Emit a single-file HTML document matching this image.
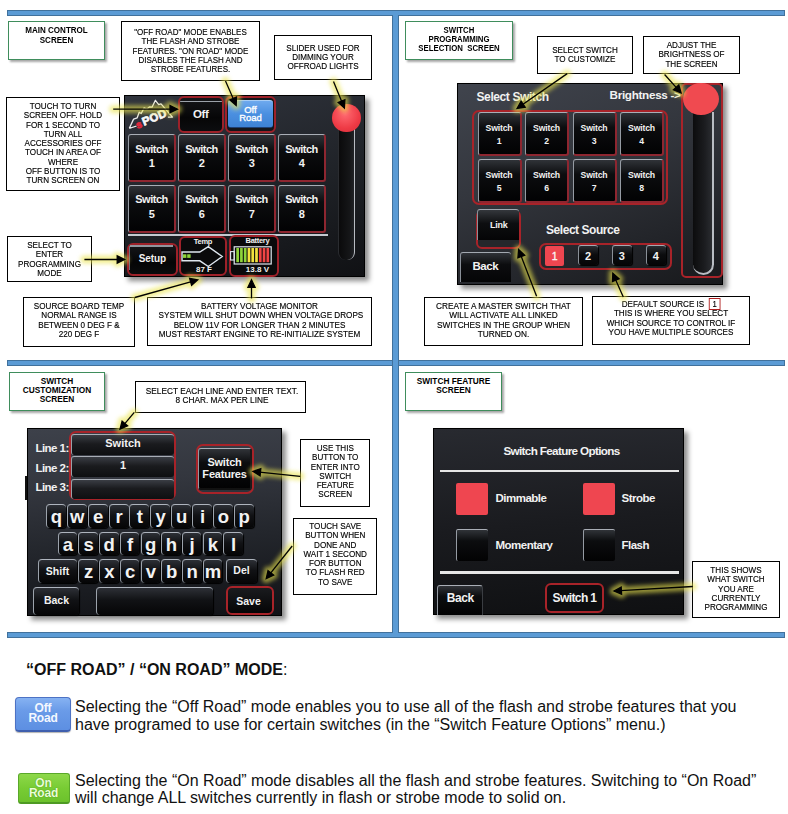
<!DOCTYPE html>
<html><head><meta charset="utf-8">
<style>
*{box-sizing:border-box}
html,body{margin:0;padding:0;background:#fff;width:788px;height:814px;overflow:hidden;position:relative;font-family:"Liberation Sans",sans-serif}
.a{position:absolute}
.bar{position:absolute;background:#5b9bd5;border:1px solid #41719c}
.gb{position:absolute;border:1.5px solid #3f8d5c;background:#fff;box-shadow:2px 2px 2px rgba(0,0,0,.35);font-weight:bold;font-size:8.3px;line-height:9.2px;text-align:center;color:#000}
.cb{position:absolute;border:1.3px solid #000;background:#fff;font-size:9px;line-height:9.3px;text-align:center;color:#000;-webkit-text-stroke:0.15px #000}
.in{transform:scaleX(0.9);white-space:nowrap}
.scr{position:absolute;background:#1c1f24;border:1px solid #000;box-shadow:4px 4px 5px rgba(0,0,0,.45)}
.txt{position:absolute;font-size:16px;line-height:17px;color:#111;white-space:nowrap}

.btn{position:absolute;background:linear-gradient(#303338 0%,#0c0d0f 35%,#020203 100%);border-radius:3px;border-top:1.5px solid #a9aeb6;border-left:1.5px solid #959ba3;border-right:2.5px solid #8e2630;border-bottom:2.5px solid #8e2630;color:#f2f2f2;font-weight:bold;text-align:center;white-space:nowrap}
.ro{position:absolute;border:1.5px solid #9a1c22;border-radius:5px}
.b1{font-size:11px;line-height:14.3px;padding-top:6.4px;letter-spacing:-0.5px}
.st{position:absolute;color:#f2f2f2;font-weight:bold;white-space:nowrap}
</style></head><body>
<!-- blue bars -->
<div class="bar" style="left:7px;top:10px;width:778px;height:6px"></div>
<div class="bar" style="left:7px;top:360px;width:778px;height:6px"></div>
<div class="bar" style="left:7px;top:632px;width:778px;height:6px"></div>
<div class="bar" style="left:392px;top:15px;width:7px;height:618px;border-top:none;border-bottom:none"></div>

<!-- Q1 -->
<div class="gb" style="left:8px;top:21px;width:97px;height:39px;padding-top:4.3px"><div style="transform:scaleX(0.97)">MAIN CONTROL<br>SCREEN</div></div>
<div class="cb" style="left:121px;top:21px;width:139px;height:60px;padding-top:6px"><div class="in" style="transform:scaleX(0.89)">"OFF ROAD" MODE ENABLES<br>THE FLASH AND STROBE<br>FEATURES. "ON ROAD" MODE<br>DISABLES THE FLASH AND<br>STROBE FEATURES.</div></div>
<div class="cb" style="left:274px;top:35px;width:98px;height:45px;padding-top:8px;line-height:8.9px"><div class="in">SLIDER USED FOR<br>DIMMING YOUR<br>OFFROAD LIGHTS</div></div>
<div class="cb" style="left:6px;top:97px;width:114px;height:94px;padding-top:4px"><div class="in">TOUCH TO TURN<br>SCREEN OFF. HOLD<br>FOR 1 SECOND TO<br>TURN ALL<br>ACCESSORIES OFF<br>TOUCH IN AREA OF<br>WHERE<br>OFF BUTTON IS TO<br>TURN SCREEN ON</div></div>
<div class="cb" style="left:7px;top:236px;width:85px;height:46px;padding-top:4px"><div class="in">SELECT TO<br>ENTER<br>PROGRAMMING<br>MODE</div></div>
<div class="cb" style="left:23px;top:297px;width:112px;height:49.5px;padding-top:4px"><div class="in">SOURCE BOARD TEMP<br>NORMAL RANGE IS<br>BETWEEN 0 DEG F &amp;<br>220 DEG F</div></div>
<div class="cb" style="left:147px;top:297px;width:225px;height:49px;padding-top:4px"><div class="in" style="transform:scaleX(0.905)">BATTERY VOLTAGE MONITOR<br>SYSTEM WILL SHUT DOWN WHEN VOLTAGE DROPS<br>BELOW 11V FOR LONGER THAN 2 MINUTES<br>MUST RESTART ENGINE TO RE-INITIALIZE SYSTEM</div></div>
<div class="scr" id="s1" style="left:124px;top:95px;width:241px;height:182px;background:linear-gradient(165deg,#30343d 0%,#1f2227 55%,#101114 100%)"></div>
<div class="btn b1" style="left:128px;top:134.4px;width:48px;height:47.5px">Switch<br>1</div>
<div class="btn b1" style="left:178px;top:134.4px;width:48px;height:47.5px">Switch<br>2</div>
<div class="btn b1" style="left:228px;top:134.4px;width:48px;height:47.5px">Switch<br>3</div>
<div class="btn b1" style="left:278px;top:134.4px;width:48px;height:47.5px">Switch<br>4</div>
<div class="btn b1" style="left:128px;top:185px;width:48px;height:47.5px">Switch<br>5</div>
<div class="btn b1" style="left:178px;top:185px;width:48px;height:47.5px">Switch<br>6</div>
<div class="btn b1" style="left:228px;top:185px;width:48px;height:47.5px">Switch<br>7</div>
<div class="btn b1" style="left:278px;top:185px;width:48px;height:47.5px">Switch<br>8</div>
<div class="a" style="left:177.5px;top:96.2px;width:46.5px;height:36.6px;border:2.5px solid #9e2129;border-radius:6px;background:linear-gradient(#151619,#060607 60%,#0c0d0f)"></div>
<div class="a" style="left:180px;top:100.5px;width:41.5px;height:1.5px;background:#9ca2aa;border-radius:1px"></div>
<div class="st" style="left:177.5px;top:105.5px;width:46.5px;text-align:center;font-size:11.5px;line-height:16px;letter-spacing:-0.4px">Off</div>
<div class="a" style="left:225px;top:96.2px;width:51px;height:36.6px;border:2.5px solid #9e2129;border-radius:6px;background:#14161a"></div>
<div class="a" style="left:227.6px;top:100.2px;width:45.8px;height:28px;border-radius:3px;background:linear-gradient(#6ea9ee,#4a8fe0 50%,#3e82d4);border-top:1px solid #a8cdf5;border-bottom:1.5px solid #1f3f70"></div>
<div class="st" style="left:227.6px;top:105.7px;width:45.8px;text-align:center;font-size:9.5px;line-height:8.7px;font-weight:normal;color:#fff;-webkit-text-stroke:0.35px #fff;letter-spacing:0px">Off<br>Road</div>
<div class="a" style="left:128px;top:234px;width:200px;height:1.7px;background:#c5cad0"></div>
<div class="a" style="left:127.3px;top:243px;width:50.3px;height:32.7px;border:2.5px solid #9e2129;border-radius:6px;background:linear-gradient(#151619,#050506 60%,#0a0b0c)"></div>
<div class="a" style="left:129.5px;top:245.3px;width:43px;height:1.5px;background:#8f959d"></div>
<div class="a" style="left:129px;top:246px;width:1.2px;height:24px;background:#6d737b"></div>
<div class="st" style="left:127.3px;top:252px;width:50.3px;text-align:center;font-size:10px;line-height:13px;letter-spacing:-0.1px">Setup</div>
<div class="a" style="left:179.2px;top:235.9px;width:47.6px;height:40.1px;border:2px solid #9e2129;border-radius:6px;background:#0a0a0b"></div>
<div class="st" style="left:179.2px;top:236.5px;width:47.6px;text-align:center;font-size:7.5px;line-height:9px;letter-spacing:-0.3px">Temp</div>
<svg class="a" style="left:176px;top:232px" width="56" height="48" viewBox="176 232 56 48"><path d="M182 252 H199.8 L208.3 246.6 L222.2 256.5 L208.3 266.5 L199.8 260.8 H182 Z" fill="none" stroke="#dfe6ee" stroke-width="1.4"/><rect x="183" y="254.3" width="3.4" height="3.6" fill="#8fd43a"/><rect x="187.2" y="254.3" width="3.4" height="3.6" fill="#8fd43a"/></svg>
<div class="st" style="left:179.2px;top:265px;width:47.6px;text-align:center;font-size:8px;line-height:10px;padding-left:2px">87 F</div>
<div class="a" style="left:228.9px;top:235.3px;width:50.1px;height:41.6px;border:2px solid #9e2129;border-radius:6px;background:#0a0a0b"></div>
<div class="st" style="left:228.9px;top:236.3px;width:50.1px;text-align:center;font-size:7.5px;line-height:9px;letter-spacing:-0.3px;padding-left:7px">Battery</div>
<svg class="a" style="left:226px;top:232px" width="58" height="48" viewBox="226 232 58 48"><rect x="230.6" y="251.6" width="3.6" height="8.4" fill="none" stroke="#dfe6ee" stroke-width="1.1"/><rect x="234.2" y="246.8" width="37" height="17.2" fill="none" stroke="#dfe6ee" stroke-width="1.2"/><rect x="236.30" y="248" width="2.7" height="14.2" fill="#8ed43a"/><rect x="240.07" y="248" width="2.7" height="14.2" fill="#8ed43a"/><rect x="243.84" y="248" width="2.7" height="14.2" fill="#8ed43a"/><rect x="247.61" y="248" width="2.7" height="14.2" fill="#f2e23e"/><rect x="251.38" y="248" width="2.7" height="14.2" fill="#f2e23e"/><rect x="255.15" y="248" width="2.7" height="14.2" fill="#f2e23e"/><rect x="258.92" y="248" width="2.7" height="14.2" fill="#f04444"/><rect x="262.69" y="248" width="2.7" height="14.2" fill="#f04444"/><rect x="266.46" y="248" width="2.7" height="14.2" fill="#f04444"/></svg>
<div class="st" style="left:228.9px;top:265.2px;width:50.1px;text-align:center;font-size:8px;line-height:10px;padding-left:7px">13.8 V</div>
<div class="a" style="left:338px;top:124px;width:17px;height:136px;border-radius:0 0 8px 8px;background:linear-gradient(90deg,#0a0a0b,#151618 70%,#202226);border-right:1.5px solid #b8bcc2;border-left:1px solid #2a2c30"></div>
<div class="a" style="left:332px;top:103.5px;width:28.5px;height:28.5px;border-radius:50%;background:radial-gradient(circle at 45% 35%,#ff6a72,#ee3a45 60%,#d62c38)"></div>
<svg class="a" style="left:125px;top:96px" width="52" height="36" viewBox="0 0 52 36"><path d="M4.3 32.3 L8.6 23.1 L12.2 21.8 L14.2 16.2 L16.2 17.5 L19.1 11.9 L21.8 13.2 L24.4 10.9 L27 11.2 L30.4 4.3 L33.7 8.6 L36 7.9 L47.5 21.1 L42.9 21.1 M4.3 32.3 L11.6 30" fill="none" stroke="#ececec" stroke-width="1.3" stroke-linejoin="round"/><g transform="rotate(-22 18 30)"><text x="19" y="30" font-family="Liberation Sans" font-weight="bold" font-size="11.5" fill="#f8f8f8" stroke="#f8f8f8" stroke-width="0.7" letter-spacing="0.2">POD</text><text x="12" y="30.5" font-family="Liberation Sans" font-weight="bold" font-size="10" fill="#e0283e" stroke="#e0283e" stroke-width="0.8">s</text></g></svg>

<!-- Q2 -->
<div class="gb" style="left:405px;top:21px;width:108px;height:39px;padding-top:4px"><div style="transform:scaleX(0.94)">SWITCH<br>PROGRAMMING<br>SELECTION&nbsp; SCREEN</div></div>
<div class="cb" style="left:536.5px;top:36px;width:96px;height:38px;padding-top:8.5px;line-height:9.5px"><div class="in">SELECT SWITCH<br>TO CUSTOMIZE</div></div>
<div class="cb" style="left:643px;top:36px;width:97px;height:38px;padding-top:3.5px;line-height:9.5px"><div class="in">ADJUST THE<br>BRIGHTNESS OF<br>THE SCREEN</div></div>
<div class="scr" id="s2" style="left:457px;top:83px;width:266px;height:202px;background:linear-gradient(160deg,#40444d 0%,#33363d 40%,#23252a 75%,#18191c 100%)"></div>
<div class="st" style="left:476.5px;top:89.5px;font-size:12px;line-height:14px;letter-spacing:-0.4px">Select Switch</div>
<div class="st" style="left:609.5px;top:87.5px;font-size:11.7px;line-height:14px;letter-spacing:-0.3px">Brightness -&gt;</div>
<div class="ro" style="left:472px;top:110.3px;width:195.5px;height:95px;border-radius:7px;border-width:2px;border-color:#a82329"></div>
<div class="btn" style="left:477.5px;top:112px;width:44px;height:44px;font-size:8.7px;line-height:13.2px;padding-top:9px;letter-spacing:-0.2px;font-weight:bold">Switch<br>1</div>
<div class="btn" style="left:525px;top:112px;width:44px;height:44px;font-size:8.7px;line-height:13.2px;padding-top:9px;letter-spacing:-0.2px;font-weight:bold">Switch<br>2</div>
<div class="btn" style="left:572.5px;top:112px;width:44px;height:44px;font-size:8.7px;line-height:13.2px;padding-top:9px;letter-spacing:-0.2px;font-weight:bold">Switch<br>3</div>
<div class="btn" style="left:620px;top:112px;width:44px;height:44px;font-size:8.7px;line-height:13.2px;padding-top:9px;letter-spacing:-0.2px;font-weight:bold">Switch<br>4</div>
<div class="btn" style="left:477.5px;top:158.5px;width:44px;height:44px;font-size:8.7px;line-height:13.2px;padding-top:9px;letter-spacing:-0.2px;font-weight:bold">Switch<br>5</div>
<div class="btn" style="left:525px;top:158.5px;width:44px;height:44px;font-size:8.7px;line-height:13.2px;padding-top:9px;letter-spacing:-0.2px;font-weight:bold">Switch<br>6</div>
<div class="btn" style="left:572.5px;top:158.5px;width:44px;height:44px;font-size:8.7px;line-height:13.2px;padding-top:9px;letter-spacing:-0.2px;font-weight:bold">Switch<br>7</div>
<div class="btn" style="left:620px;top:158.5px;width:44px;height:44px;font-size:8.7px;line-height:13.2px;padding-top:9px;letter-spacing:-0.2px;font-weight:bold">Switch<br>8</div>
<div class="a" style="left:476.1px;top:209.5px;width:44.8px;height:39px;border:2px solid #a82329;border-radius:6px;background:#25272b"></div>
<div class="a" style="left:477.1px;top:209.2px;width:41.5px;height:30.5px;border-radius:3px 3px 0 0;border-top:1.5px solid #a3a9b1;border-left:1.5px solid #8a9098;background:linear-gradient(#34373c,#0d0e10 45%,#050506)"></div>
<div class="st" style="left:476.2px;top:219px;width:45px;text-align:center;font-size:9px;line-height:12px;letter-spacing:-0.3px">Link</div>
<div class="a" style="left:459.6px;top:251.5px;width:51.5px;height:30.5px;border-radius:3px 3px 0 0;border-top:1.5px solid #a3a9b1;border-left:1.5px solid #8a9098;background:linear-gradient(#2f3237,#0c0d0f 40%,#050506)"></div>
<div class="st" style="left:459.6px;top:258.5px;width:51.5px;text-align:center;font-size:11.5px;line-height:14px;letter-spacing:-0.4px">Back</div>
<div class="st" style="left:546px;top:223px;font-size:12px;line-height:14px;letter-spacing:-0.45px">Select Source</div>
<div class="a" style="left:539px;top:242.6px;width:133px;height:27.6px;border:2px solid #a82329;border-radius:7px"></div>
<div class="a" style="left:545.1px;top:246.3px;width:19.3px;height:19.3px;border-radius:2px;background:#ef4650"></div>
<div class="st" style="left:545.1px;top:249px;width:19.3px;text-align:center;font-size:10.5px;line-height:14px;font-weight:normal;-webkit-text-stroke:0.3px #fff">1</div>
<div class="a" style="left:578.2px;top:245.4px;width:19.5px;height:19.6px;border-radius:3px;border-top:1.5px solid #a3a9b1;border-left:1.5px solid #8a9098;background:linear-gradient(#2a2d32,#0c0d0f 45%,#050506);box-shadow:1px 1px 1px #000"></div>
<div class="st" style="left:578.2px;top:248.5px;width:19.5px;text-align:center;font-size:11px;line-height:14px">2</div>
<div class="a" style="left:612px;top:245.4px;width:19.5px;height:19.6px;border-radius:3px;border-top:1.5px solid #a3a9b1;border-left:1.5px solid #8a9098;background:linear-gradient(#2a2d32,#0c0d0f 45%,#050506);box-shadow:1px 1px 1px #000"></div>
<div class="st" style="left:612px;top:248.5px;width:19.5px;text-align:center;font-size:11px;line-height:14px">3</div>
<div class="a" style="left:646px;top:245.4px;width:19.5px;height:19.6px;border-radius:3px;border-top:1.5px solid #a3a9b1;border-left:1.5px solid #8a9098;background:linear-gradient(#2a2d32,#0c0d0f 45%,#050506);box-shadow:1px 1px 1px #000"></div>
<div class="st" style="left:646px;top:248.5px;width:19.5px;text-align:center;font-size:11px;line-height:14px">4</div>
<div class="a" style="left:680.5px;top:82.5px;width:42.5px;height:195.5px;border:2px solid #a82329;border-radius:5px"></div>
<div class="a" style="left:692.5px;top:112px;width:21.5px;height:163px;border-radius:0 0 11px 11px;background:linear-gradient(90deg,#0c0c0d,#1b1c1f 60%,#2a2c30);border-right:2px solid #b9bdc3;border-bottom:2px solid #b9bdc3"></div>
<div class="a" style="left:683.3px;top:83.3px;width:35.5px;height:32.2px;border-radius:50%;background:#f04a50"></div>
<div class="cb" style="left:424px;top:296.5px;width:159px;height:49px;padding-top:4.5px"><div class="in" style="transform:scaleX(0.92)">CREATE A MASTER SWITCH THAT<br>WILL ACTIVATE ALL LINKED<br>SWITCHES IN THE GROUP WHEN<br>TURNED ON.</div></div>
<div class="cb" style="left:591.5px;top:295.5px;width:158px;height:49.5px;padding-top:3.5px"><div class="in">DEFAULT SOURCE IS&nbsp; <span style="border:1px solid #b02020;padding:0 3px;font-size:8.5px">1</span><br>THIS IS WHERE YOU SELECT<br>WHICH SOURCE TO CONTROL IF<br>YOU HAVE MULTIPLE SOURCES</div></div>

<!-- Q3 -->
<div class="gb" style="left:9px;top:372px;width:96px;height:39px;padding-top:4px">SWITCH<br>CUSTOMIZATION<br>SCREEN</div>
<div class="cb" style="left:134.5px;top:381px;width:171px;height:31.5px;padding-top:4.5px;padding-left:3px"><div class="in" style="transform:scaleX(0.92)">SELECT EACH LINE AND ENTER TEXT.<br>8 CHAR. MAX PER LINE</div></div>
<div class="scr" id="s3" style="left:27px;top:428px;width:255px;height:188px;background:linear-gradient(175deg,#3d414a 0%,#33363e 30%,#23262c 60%,#111216 100%)"></div>
<div class="a" style="left:25px;top:476px;width:2px;height:24px;background:#111"></div>
<div class="st" style="left:35.5px;top:441.3px;font-size:11.5px;line-height:14px;letter-spacing:-0.55px">Line 1:</div>
<div class="st" style="left:35.5px;top:461.3px;font-size:11.5px;line-height:14px;letter-spacing:-0.55px">Line 2:</div>
<div class="st" style="left:35.5px;top:480.3px;font-size:11.5px;line-height:14px;letter-spacing:-0.55px">Line 3:</div>
<div class="ro" style="left:69px;top:431px;width:107px;height:69px;border-radius:7px;border-width:2px;border-color:#a82329"></div>
<div class="btn" style="left:71px;top:434px;width:103px;height:20.5px;font-size:11px;line-height:17px;border-right:none;border-bottom:none;border-left-color:#9aa0a8;background:linear-gradient(#3a3d44,#1a1b1e 45%,#0e0f11)">Switch</div>
<div class="btn" style="left:71px;top:456px;width:103px;height:20.5px;font-size:11px;line-height:17px;border-right:none;border-bottom:none;border-left-color:#9aa0a8;background:linear-gradient(#3a3d44,#1a1b1e 45%,#0e0f11)">1</div>
<div class="btn" style="left:71px;top:478.5px;width:103px;height:20.5px;font-size:11px;line-height:17px;border-right:none;border-bottom:none;border-left-color:#9aa0a8;background:linear-gradient(#3a3d44,#1a1b1e 45%,#0e0f11)"></div>
<div class="ro" style="left:196px;top:444px;width:58px;height:49.5px;border-radius:7px;border-width:2px;border-color:#a82329"></div>
<div class="btn" style="left:198px;top:447.5px;width:54px;height:42.5px;font-size:11px;line-height:12.5px;padding-top:7px;border-right-color:#1a1a1a;border-bottom-color:#111;letter-spacing:-0.2px">Switch<br>Features</div>
<div class="btn" style="left:46.0px;top:504px;width:20px;height:24px;font-weight:bold;font-size:18.5px;line-height:23.5px;border-right:none;border-bottom:none;border-left:1.8px solid #9ca3ac;border-top:1.8px solid #aeb4bd;border-radius:4px;box-shadow:1px 1px 1px #000;background:linear-gradient(#2d3036,#111215 45%,#050506)">q</div>
<div class="btn" style="left:66.8px;top:504px;width:20px;height:24px;font-weight:bold;font-size:18.5px;line-height:23.5px;border-right:none;border-bottom:none;border-left:1.8px solid #9ca3ac;border-top:1.8px solid #aeb4bd;border-radius:4px;box-shadow:1px 1px 1px #000;background:linear-gradient(#2d3036,#111215 45%,#050506)">w</div>
<div class="btn" style="left:87.7px;top:504px;width:20px;height:24px;font-weight:bold;font-size:18.5px;line-height:23.5px;border-right:none;border-bottom:none;border-left:1.8px solid #9ca3ac;border-top:1.8px solid #aeb4bd;border-radius:4px;box-shadow:1px 1px 1px #000;background:linear-gradient(#2d3036,#111215 45%,#050506)">e</div>
<div class="btn" style="left:108.6px;top:504px;width:20px;height:24px;font-weight:bold;font-size:18.5px;line-height:23.5px;border-right:none;border-bottom:none;border-left:1.8px solid #9ca3ac;border-top:1.8px solid #aeb4bd;border-radius:4px;box-shadow:1px 1px 1px #000;background:linear-gradient(#2d3036,#111215 45%,#050506)">r</div>
<div class="btn" style="left:129.4px;top:504px;width:20px;height:24px;font-weight:bold;font-size:18.5px;line-height:23.5px;border-right:none;border-bottom:none;border-left:1.8px solid #9ca3ac;border-top:1.8px solid #aeb4bd;border-radius:4px;box-shadow:1px 1px 1px #000;background:linear-gradient(#2d3036,#111215 45%,#050506)">t</div>
<div class="btn" style="left:150.2px;top:504px;width:20px;height:24px;font-weight:bold;font-size:18.5px;line-height:23.5px;border-right:none;border-bottom:none;border-left:1.8px solid #9ca3ac;border-top:1.8px solid #aeb4bd;border-radius:4px;box-shadow:1px 1px 1px #000;background:linear-gradient(#2d3036,#111215 45%,#050506)">y</div>
<div class="btn" style="left:171.1px;top:504px;width:20px;height:24px;font-weight:bold;font-size:18.5px;line-height:23.5px;border-right:none;border-bottom:none;border-left:1.8px solid #9ca3ac;border-top:1.8px solid #aeb4bd;border-radius:4px;box-shadow:1px 1px 1px #000;background:linear-gradient(#2d3036,#111215 45%,#050506)">u</div>
<div class="btn" style="left:192.0px;top:504px;width:20px;height:24px;font-weight:bold;font-size:18.5px;line-height:23.5px;border-right:none;border-bottom:none;border-left:1.8px solid #9ca3ac;border-top:1.8px solid #aeb4bd;border-radius:4px;box-shadow:1px 1px 1px #000;background:linear-gradient(#2d3036,#111215 45%,#050506)">i</div>
<div class="btn" style="left:212.8px;top:504px;width:20px;height:24px;font-weight:bold;font-size:18.5px;line-height:23.5px;border-right:none;border-bottom:none;border-left:1.8px solid #9ca3ac;border-top:1.8px solid #aeb4bd;border-radius:4px;box-shadow:1px 1px 1px #000;background:linear-gradient(#2d3036,#111215 45%,#050506)">o</div>
<div class="btn" style="left:233.7px;top:504px;width:20px;height:24px;font-weight:bold;font-size:18.5px;line-height:23.5px;border-right:none;border-bottom:none;border-left:1.8px solid #9ca3ac;border-top:1.8px solid #aeb4bd;border-radius:4px;box-shadow:1px 1px 1px #000;background:linear-gradient(#2d3036,#111215 45%,#050506)">p</div>
<div class="btn" style="left:57.6px;top:532px;width:19.5px;height:23px;font-weight:bold;font-size:18.5px;line-height:23.5px;border-right:none;border-bottom:none;border-left:1.8px solid #9ca3ac;border-top:1.8px solid #aeb4bd;border-radius:4px;box-shadow:1px 1px 1px #000;background:linear-gradient(#2d3036,#111215 45%,#050506)">a</div>
<div class="btn" style="left:78.3px;top:532px;width:19.5px;height:23px;font-weight:bold;font-size:18.5px;line-height:23.5px;border-right:none;border-bottom:none;border-left:1.8px solid #9ca3ac;border-top:1.8px solid #aeb4bd;border-radius:4px;box-shadow:1px 1px 1px #000;background:linear-gradient(#2d3036,#111215 45%,#050506)">s</div>
<div class="btn" style="left:99.0px;top:532px;width:19.5px;height:23px;font-weight:bold;font-size:18.5px;line-height:23.5px;border-right:none;border-bottom:none;border-left:1.8px solid #9ca3ac;border-top:1.8px solid #aeb4bd;border-radius:4px;box-shadow:1px 1px 1px #000;background:linear-gradient(#2d3036,#111215 45%,#050506)">d</div>
<div class="btn" style="left:119.8px;top:532px;width:19.5px;height:23px;font-weight:bold;font-size:18.5px;line-height:23.5px;border-right:none;border-bottom:none;border-left:1.8px solid #9ca3ac;border-top:1.8px solid #aeb4bd;border-radius:4px;box-shadow:1px 1px 1px #000;background:linear-gradient(#2d3036,#111215 45%,#050506)">f</div>
<div class="btn" style="left:140.5px;top:532px;width:19.5px;height:23px;font-weight:bold;font-size:18.5px;line-height:23.5px;border-right:none;border-bottom:none;border-left:1.8px solid #9ca3ac;border-top:1.8px solid #aeb4bd;border-radius:4px;box-shadow:1px 1px 1px #000;background:linear-gradient(#2d3036,#111215 45%,#050506)">g</div>
<div class="btn" style="left:161.2px;top:532px;width:19.5px;height:23px;font-weight:bold;font-size:18.5px;line-height:23.5px;border-right:none;border-bottom:none;border-left:1.8px solid #9ca3ac;border-top:1.8px solid #aeb4bd;border-radius:4px;box-shadow:1px 1px 1px #000;background:linear-gradient(#2d3036,#111215 45%,#050506)">h</div>
<div class="btn" style="left:181.9px;top:532px;width:19.5px;height:23px;font-weight:bold;font-size:18.5px;line-height:23.5px;border-right:none;border-bottom:none;border-left:1.8px solid #9ca3ac;border-top:1.8px solid #aeb4bd;border-radius:4px;box-shadow:1px 1px 1px #000;background:linear-gradient(#2d3036,#111215 45%,#050506)">j</div>
<div class="btn" style="left:202.6px;top:532px;width:19.5px;height:23px;font-weight:bold;font-size:18.5px;line-height:23.5px;border-right:none;border-bottom:none;border-left:1.8px solid #9ca3ac;border-top:1.8px solid #aeb4bd;border-radius:4px;box-shadow:1px 1px 1px #000;background:linear-gradient(#2d3036,#111215 45%,#050506)">k</div>
<div class="btn" style="left:223.4px;top:532px;width:19.5px;height:23px;font-weight:bold;font-size:18.5px;line-height:23.5px;border-right:none;border-bottom:none;border-left:1.8px solid #9ca3ac;border-top:1.8px solid #aeb4bd;border-radius:4px;box-shadow:1px 1px 1px #000;background:linear-gradient(#2d3036,#111215 45%,#050506)">l</div>
<div class="btn" style="left:78.4px;top:559px;width:19.5px;height:24px;font-weight:bold;font-size:18.5px;line-height:23.5px;border-right:none;border-bottom:none;border-left:1.8px solid #9ca3ac;border-top:1.8px solid #aeb4bd;border-radius:4px;box-shadow:1px 1px 1px #000;background:linear-gradient(#2d3036,#111215 45%,#050506)">z</div>
<div class="btn" style="left:99.1px;top:559px;width:19.5px;height:24px;font-weight:bold;font-size:18.5px;line-height:23.5px;border-right:none;border-bottom:none;border-left:1.8px solid #9ca3ac;border-top:1.8px solid #aeb4bd;border-radius:4px;box-shadow:1px 1px 1px #000;background:linear-gradient(#2d3036,#111215 45%,#050506)">x</div>
<div class="btn" style="left:119.8px;top:559px;width:19.5px;height:24px;font-weight:bold;font-size:18.5px;line-height:23.5px;border-right:none;border-bottom:none;border-left:1.8px solid #9ca3ac;border-top:1.8px solid #aeb4bd;border-radius:4px;box-shadow:1px 1px 1px #000;background:linear-gradient(#2d3036,#111215 45%,#050506)">c</div>
<div class="btn" style="left:140.6px;top:559px;width:19.5px;height:24px;font-weight:bold;font-size:18.5px;line-height:23.5px;border-right:none;border-bottom:none;border-left:1.8px solid #9ca3ac;border-top:1.8px solid #aeb4bd;border-radius:4px;box-shadow:1px 1px 1px #000;background:linear-gradient(#2d3036,#111215 45%,#050506)">v</div>
<div class="btn" style="left:161.3px;top:559px;width:19.5px;height:24px;font-weight:bold;font-size:18.5px;line-height:23.5px;border-right:none;border-bottom:none;border-left:1.8px solid #9ca3ac;border-top:1.8px solid #aeb4bd;border-radius:4px;box-shadow:1px 1px 1px #000;background:linear-gradient(#2d3036,#111215 45%,#050506)">b</div>
<div class="btn" style="left:182.0px;top:559px;width:19.5px;height:24px;font-weight:bold;font-size:18.5px;line-height:23.5px;border-right:none;border-bottom:none;border-left:1.8px solid #9ca3ac;border-top:1.8px solid #aeb4bd;border-radius:4px;box-shadow:1px 1px 1px #000;background:linear-gradient(#2d3036,#111215 45%,#050506)">n</div>
<div class="btn" style="left:202.7px;top:559px;width:19.5px;height:24px;font-weight:bold;font-size:18.5px;line-height:23.5px;border-right:none;border-bottom:none;border-left:1.8px solid #9ca3ac;border-top:1.8px solid #aeb4bd;border-radius:4px;box-shadow:1px 1px 1px #000;background:linear-gradient(#2d3036,#111215 45%,#050506)">m</div>
<div class="btn" style="left:37.5px;top:559px;width:39px;height:24px;font-weight:bold;font-size:18.5px;line-height:23.5px;border-right:none;border-bottom:none;border-left:1.8px solid #9ca3ac;border-top:1.8px solid #aeb4bd;border-radius:4px;box-shadow:1px 1px 1px #000;background:linear-gradient(#2d3036,#111215 45%,#050506);font-weight:bold;font-size:10.5px;line-height:23px">Shift</div>
<div class="btn" style="left:225.5px;top:559px;width:31px;height:23.5px;font-weight:bold;font-size:18.5px;line-height:23.5px;border-right:none;border-bottom:none;border-left:1.8px solid #9ca3ac;border-top:1.8px solid #aeb4bd;border-radius:4px;box-shadow:1px 1px 1px #000;background:linear-gradient(#2d3036,#111215 45%,#050506);font-weight:bold;font-size:10.5px;line-height:21.5px">Del</div>
<div class="btn" style="left:33px;top:586.5px;width:46px;height:28px;font-weight:bold;font-size:18.5px;line-height:23.5px;border-right:none;border-bottom:none;border-left:1.8px solid #9ca3ac;border-top:1.8px solid #aeb4bd;border-radius:4px;box-shadow:1px 1px 1px #000;background:linear-gradient(#2d3036,#111215 45%,#050506);font-weight:bold;font-size:10.5px;line-height:25px">Back</div>
<div class="btn" style="left:95.5px;top:586.5px;width:117px;height:28px;font-weight:bold;font-size:18.5px;line-height:23.5px;border-right:none;border-bottom:none;border-left:1.8px solid #9ca3ac;border-top:1.8px solid #aeb4bd;border-radius:4px;box-shadow:1px 1px 1px #000;background:linear-gradient(#2d3036,#111215 45%,#050506)"></div>
<div class="ro" style="left:225.9px;top:586.3px;width:48.5px;height:28.6px;border-radius:6px;border-width:2px;border-color:#a82329;background:linear-gradient(#1a1b1e,#050506)"></div>
<div class="st" style="left:224px;top:586.5px;width:49px;text-align:center;font-size:10.5px;line-height:28px">Save</div>
<div class="cb" style="left:299.5px;top:438.5px;width:70.5px;height:68.5px;padding-top:4.5px"><div class="in">USE THIS<br>BUTTON TO<br>ENTER INTO<br>SWITCH<br>FEATURE<br>SCREEN</div></div>
<div class="cb" style="left:292.5px;top:517.5px;width:84.5px;height:77.5px;padding-top:3.5px"><div class="in">TOUCH SAVE<br>BUTTON WHEN<br>DONE AND<br>WAIT 1 SECOND<br>FOR BUTTON<br>TO FLASH RED<br>TO SAVE</div></div>

<!-- Q4 -->
<div class="gb" style="left:405px;top:372px;width:97px;height:39px;padding-top:4px">SWITCH FEATURE<br>SCREEN</div>
<div class="scr" id="s4" style="left:433px;top:428px;width:251px;height:187px;background:linear-gradient(175deg,#282a30 0%,#1a1b1f 50%,#0f1012 100%)"></div>
<div class="st" style="left:436px;top:443.5px;width:251px;text-align:center;font-size:11.7px;line-height:14px;letter-spacing:-0.65px">Switch Feature Options</div>
<div class="a" style="left:439.5px;top:469.5px;width:239px;height:2.5px;background:#e6e6e6"></div>
<div class="a" style="left:439.5px;top:571px;width:239px;height:2.5px;background:#e6e6e6"></div>
<div class="a" style="left:456px;top:482.5px;width:32px;height:32.5px;border-radius:2px;background:#ef4650"></div>
<div class="a" style="left:582.5px;top:482.5px;width:32px;height:32.5px;border-radius:2px;background:#ef4650"></div>
<div class="btn" style="left:456px;top:529px;width:32px;height:32px;border-right:none;border-bottom:none;border-radius:2px"></div>
<div class="btn" style="left:582.5px;top:529px;width:32px;height:32px;border-right:none;border-bottom:none;border-radius:2px"></div>
<div class="st" style="left:495.5px;top:491px;font-size:11.5px;line-height:14px;letter-spacing:-0.5px">Dimmable</div>
<div class="st" style="left:621.5px;top:491px;font-size:11.5px;line-height:14px;letter-spacing:-0.5px">Strobe</div>
<div class="st" style="left:495.5px;top:538px;font-size:11.5px;line-height:14px;letter-spacing:-0.5px">Momentary</div>
<div class="st" style="left:621.5px;top:538px;font-size:11.5px;line-height:14px;letter-spacing:-0.5px">Flash</div>
<div class="btn" style="left:437.2px;top:584.5px;width:46px;height:30.5px;font-size:12px;line-height:25px;border-right:1px solid #3a3d42;border-bottom:none;letter-spacing:-0.4px;border-radius:3px 3px 0 0">Back</div>
<div class="ro" style="left:544.9px;top:583px;width:59.4px;height:29.7px;border-radius:6px;background:#0c0d0f;border-width:2px;border-color:#a82329"></div>
<div class="st" style="left:544.5px;top:583.5px;width:60px;text-align:center;font-size:12px;line-height:28px;letter-spacing:-0.6px">Switch 1</div>
<div class="cb" style="left:692px;top:561px;width:88px;height:57px;padding-top:4px"><div class="in">THIS SHOWS<br>WHAT SWITCH<br>YOU ARE<br>CURRENTLY<br>PROGRAMMING</div></div>

<svg class="a" style="left:0;top:0;z-index:5" width="788" height="814" viewBox="0 0 788 814">
<defs><filter id="gl" x="-50%" y="-50%" width="200%" height="200%"><feGaussianBlur stdDeviation="2"/></filter></defs>
<g filter="url(#gl)" stroke="#ebe550" stroke-width="8" fill="#ebe550" stroke-linejoin="round" stroke-linecap="round" opacity="0.62"><line x1="113.2" y1="109.2" x2="177.5" y2="109.2"/><polygon points="177.5,109.2 170.0,112.8 170.0,105.6"/><line x1="225.5" y1="81" x2="236.2" y2="105.4"/><polygon points="236.2,105.4 229.9,100.0 236.5,97.1"/><line x1="333.5" y1="81.5" x2="344.4" y2="108.0"/><polygon points="344.4,108.0 338.2,102.4 344.9,99.7"/><line x1="84.4" y1="259.5" x2="124.7" y2="259.5"/><polygon points="124.7,259.5 117.2,263.1 117.2,255.9"/><line x1="134.8" y1="297.5" x2="197.8" y2="279.8"/><polygon points="197.8,279.8 191.6,285.3 189.6,278.4"/><line x1="251.5" y1="298.4" x2="251.5" y2="279.8"/><polygon points="251.5,279.8 255.1,287.3 247.9,287.3"/><line x1="567.2" y1="73.6" x2="517.0" y2="108.5"/><polygon points="517.0,108.5 521.1,101.3 525.2,107.2"/><line x1="664.6" y1="74.5" x2="681.1" y2="92.9"/><polygon points="681.1,92.9 673.4,89.7 678.8,84.9"/><line x1="536.6" y1="296.2" x2="518.6" y2="249.5"/><polygon points="518.6,249.5 524.7,255.2 517.9,257.8"/><line x1="623.3" y1="297.1" x2="612.8" y2="273.3"/><polygon points="612.8,273.3 619.1,278.7 612.5,281.6"/><line x1="134.3" y1="412.4" x2="120.0" y2="429.2"/><polygon points="120.0,429.2 122.1,421.2 127.6,425.8"/><line x1="300.2" y1="476.3" x2="253.0" y2="471.4"/><polygon points="253.0,471.4 260.8,468.6 260.1,475.8"/><line x1="292.2" y1="546" x2="266.2" y2="578.7"/><polygon points="266.2,578.7 268.0,570.6 273.7,575.1"/><line x1="692.8" y1="586.5" x2="613.9" y2="591.0"/><polygon points="613.9,591.0 621.2,587.0 621.6,594.2"/></g>
<g stroke="#000" stroke-width="1.3" fill="#000"><line x1="113.2" y1="109.2" x2="171.0" y2="109.2"/><polygon points="177.5,109.2 170.0,112.8 170.0,105.6"/><line x1="225.5" y1="81" x2="233.6" y2="99.4"/><polygon points="236.2,105.4 229.9,100.0 236.5,97.1"/><line x1="333.5" y1="81.5" x2="341.9" y2="102.0"/><polygon points="344.4,108.0 338.2,102.4 344.9,99.7"/><line x1="84.4" y1="259.5" x2="118.2" y2="259.5"/><polygon points="124.7,259.5 117.2,263.1 117.2,255.9"/><line x1="134.8" y1="297.5" x2="191.5" y2="281.6"/><polygon points="197.8,279.8 191.6,285.3 189.6,278.4"/><line x1="251.5" y1="298.4" x2="251.5" y2="286.3"/><polygon points="251.5,279.8 255.1,287.3 247.9,287.3"/><line x1="567.2" y1="73.6" x2="522.3" y2="104.8"/><polygon points="517.0,108.5 521.1,101.3 525.2,107.2"/><line x1="664.6" y1="74.5" x2="676.8" y2="88.1"/><polygon points="681.1,92.9 673.4,89.7 678.8,84.9"/><line x1="536.6" y1="296.2" x2="520.9" y2="255.6"/><polygon points="518.6,249.5 524.7,255.2 517.9,257.8"/><line x1="623.3" y1="297.1" x2="615.4" y2="279.2"/><polygon points="612.8,273.3 619.1,278.7 612.5,281.6"/><line x1="134.3" y1="412.4" x2="124.2" y2="424.3"/><polygon points="120.0,429.2 122.1,421.2 127.6,425.8"/><line x1="300.2" y1="476.3" x2="259.5" y2="472.1"/><polygon points="253.0,471.4 260.8,468.6 260.1,475.8"/><line x1="292.2" y1="546" x2="270.2" y2="573.6"/><polygon points="266.2,578.7 268.0,570.6 273.7,575.1"/><line x1="692.8" y1="586.5" x2="620.4" y2="590.6"/><polygon points="613.9,591.0 621.2,587.0 621.6,594.2"/></g>
</svg>
<div class="a" style="left:15.2px;top:697px;width:55.6px;height:34.7px;border-radius:4px;background:linear-gradient(#86b2f2,#6a9be8 40%,#5d8fe2);border:1px solid #4d72c4;border-bottom:2px solid #3f5fae;box-shadow:0 1px 1px rgba(0,0,0,.3)"></div>
<div class="a" style="left:15.2px;top:702.5px;width:55.6px;text-align:center;color:#f4f8ff;font-size:12px;line-height:10px;font-weight:bold;letter-spacing:-0.2px">Off<br>Road</div>
<div class="a" style="left:17.5px;top:773.1px;width:52px;height:31px;border-radius:3px;background:linear-gradient(#8ed84a,#78cc34 50%,#6cc22c);border:1px solid #5aa82a;border-bottom:2px solid #4e9a24"></div>
<div class="a" style="left:17.5px;top:777.5px;width:52px;text-align:center;color:#eaffd6;font-size:12px;line-height:10px;font-weight:bold;letter-spacing:-0.2px;text-shadow:0 0 1px #3a7a1a">On<br>Road</div>
<!-- bottom text -->
<div class="txt" style="left:26px;top:661px;font-weight:bold">“OFF ROAD” / “ON ROAD” MODE<span style="font-weight:normal">:</span></div>
<div class="txt" style="left:75px;top:697.5px;line-height:18px">Selecting the “Off Road” mode enables you to use all of the flash and strobe features that you<br>have programed to use for certain switches (in the “Switch Feature Options” menu.)</div>
<div class="txt" style="left:75px;top:771.8px;line-height:17.6px">Selecting the “On Road” mode disables all the flash and strobe features. Switching to “On Road”<br>will change ALL switches currently in flash or strobe mode to solid on.</div>
</body></html>
